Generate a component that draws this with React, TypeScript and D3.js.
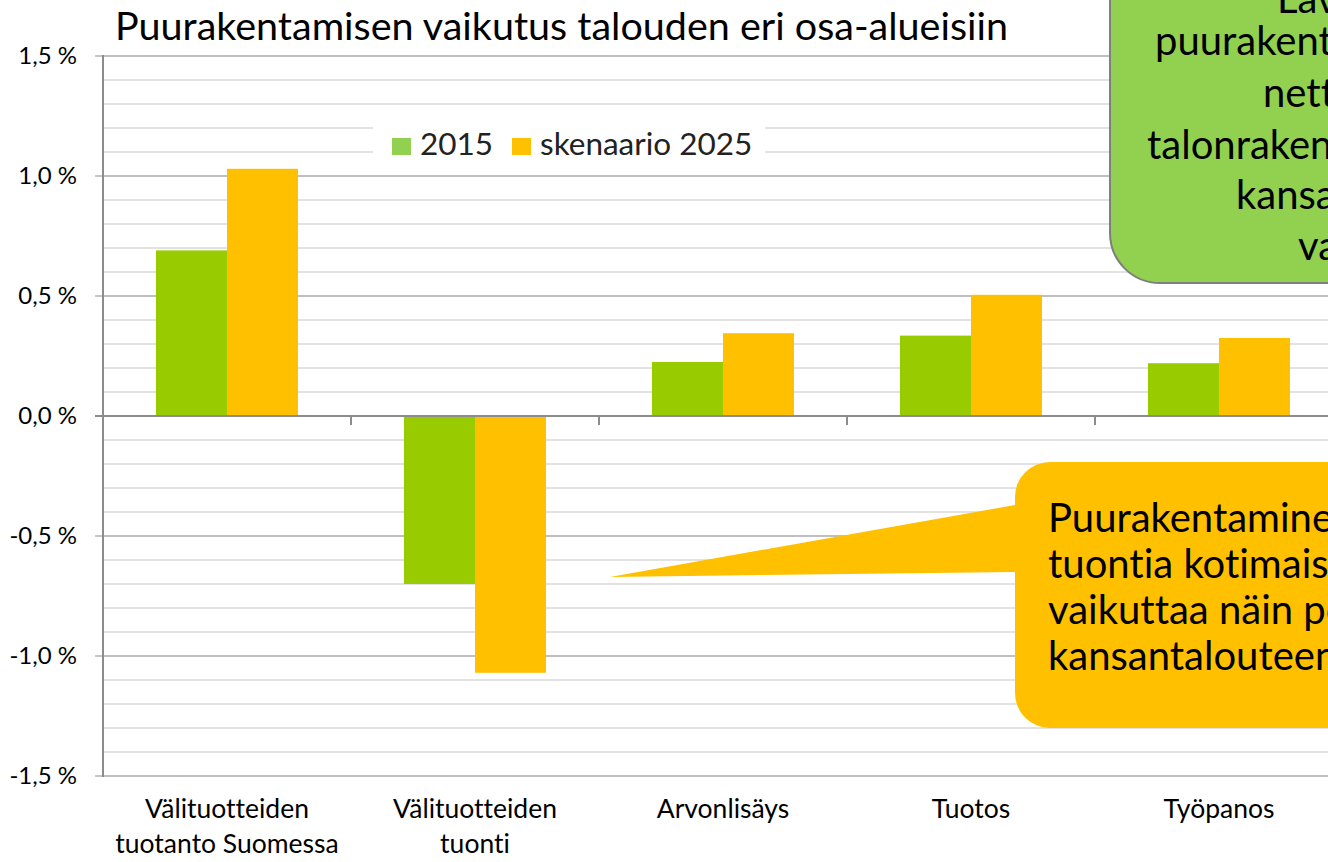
import React from "react";
import * as d3 from "d3";

const categories: string[][] = [
  ["Välituotteiden", "tuotanto Suomessa"],
  ["Välituotteiden", "tuonti"],
  ["Arvonlisäys"],
  ["Tuotos"],
  ["Työpanos"],
];
const seriesNames = ["2015", "skenaario 2025"];
const values2015 = [0.69, -0.7, 0.225, 0.335, 0.22];
const values2025 = [1.03, -1.07, 0.345, 0.505, 0.325];
const majorTicks = [-1.5, -1.0, -0.5, 0.0, 0.5, 1.0, 1.5];
const title = "Puurakentamisen vaikutus talouden eri osa-alueisiin";
const greenNote = ["Laveamman", "puurakentamisen", "nettovaikutus", "talonrakentamisessa", "kansantalouteen", "vahva"];
const orangeNote = ["Puurakentaminen korvaa", "tuontia kotimaisella ja", "vaikuttaa näin positiivisesti", "kansantalouteen."];

const W = 1328;
const H = 862;
const FONT = "Lato, 'Open Sans', sans-serif";
const GREEN = "#99CC00";
const ORANGE = "#FFC000";

export default function App() {
  const y = d3.scaleLinear().domain([-1.5, 1.5]).range([776, 56]);
  const x0 = d3
    .scaleBand<number>()
    .domain(categories.map((_, i) => i))
    .range([103, 1343])
    .padding(0);
  const x1 = d3
    .scaleBand<string>()
    .domain(seriesNames)
    .range([0, x0.bandwidth()])
    .paddingInner(0)
    .paddingOuter(0.746);
  const minor = d3.range(-15, 16).map((v) => v / 10);
  const fmt = (v: number) => v.toFixed(1).replace(".", ",").replace("-0,0", "0,0") + " %";
  const series = [values2015, values2025];
  const colors = [GREEN, ORANGE];

  const bx = 1015, by = 462, bb = 728, br = 35, bR = 1400;
  const orangePath = [
    `M${bx + br},${by}`,
    `L${bR},${by}`,
    `L${bR},${bb}`,
    `L${bx + br},${bb}`,
    `A${br},${br} 0 0 1 ${bx},${bb - br}`,
    `L${bx},572`,
    `L610,577`,
    `L${bx},505`,
    `L${bx},${by + br}`,
    `A${br},${br} 0 0 1 ${bx + br},${by}`,
    "Z",
  ].join(" ");

  const greenX = [1277, 1155, 1263, 1147, 1236, 1298];
  const greenY = [13, 55, 107, 159, 209, 260];

  return (
    <svg
      width={W}
      height={H}
      style={{ position: "absolute", left: 0, top: 0, background: "#fff", fontVariantLigatures: "none" }}
      fontFamily={FONT}
    >
      <rect x={0} y={0} width={W} height={H} fill="#fff" />
      {minor.map((v) => (
        <line key={"m" + v} x1={103} x2={W} y1={y(v)} y2={y(v)} stroke="#d9d9d9" strokeWidth={1.5} />
      ))}
      {majorTicks.filter((v) => v !== 0).map((v) => (
        <line key={"M" + v} x1={95} x2={W} y1={y(v)} y2={y(v)} stroke="#b3b3b3" strokeWidth={1.5} />
      ))}
      {majorTicks.map((v) => (
        <text key={"t" + v} x={77} y={y(v) + 8} textAnchor="end" fontSize={24} fill="#000">
          {fmt(v)}
        </text>
      ))}
      {series.map((vals, s) =>
        vals.map((v, i) => (
          <rect
            key={`b${s}-${i}`}
            x={(x0(i) as number) + (x1(seriesNames[s]) as number)}
            y={y(Math.max(0, v))}
            width={x1.bandwidth()}
            height={Math.abs(y(v) - y(0))}
            fill={colors[s]}
          />
        ))
      )}
      <line x1={103} x2={103} y1={55} y2={777} stroke="#8c8c8c" strokeWidth={2} />
      <line x1={95} x2={W} y1={y(0)} y2={y(0)} stroke="#8c8c8c" strokeWidth={2} />
      {categories.map((_, i) => (
        <line key={"ct" + i} x1={x0(i) as number} x2={x0(i) as number} y1={y(0)} y2={y(0) + 9} stroke="#8c8c8c" strokeWidth={2} />
      ))}
      {categories.map((lines, i) => (
        <text key={"c" + i} x={(x0(i) as number) + x0.bandwidth() / 2} y={818} textAnchor="middle" fontSize={26.5} fill="#000">
          {lines.map((l, k) => (
            <tspan key={k} x={(x0(i) as number) + x0.bandwidth() / 2} dy={k === 0 ? 0 : 35}>
              {l}
            </tspan>
          ))}
        </text>
      ))}
      <text x={115} y={40} fontSize={39.5} fill="#000">
        {title}
      </text>
      <rect x={373} y={120} width={392} height={44} fill="#fff" />
      <rect x={392} y={138} width={19} height={17} fill="#92D050" />
      <text x={420} y={155} fontSize={31.5} fill="#222">{seriesNames[0]}</text>
      <rect x={512} y={138} width={19} height={17} fill={ORANGE} />
      <text x={540} y={155} fontSize={31.5} fill="#222">{seriesNames[1]}</text>
      <rect x={1110} y={-100} width={400} height={383} rx={50} ry={50} fill="#92D050" stroke="#7f7f7f" strokeWidth={2} />
      {greenNote.map((l, k) => (
        <text key={"g" + k} x={greenX[k]} y={greenY[k]} fontSize={40} fill="#000">
          {l}
        </text>
      ))}
      <path d={orangePath} fill={ORANGE} />
      {orangeNote.map((l, k) => (
        <text key={"o" + k} x={1048} y={532 + k * 46} fontSize={40} fill="#000">
          {l}
        </text>
      ))}
    </svg>
  );
}
